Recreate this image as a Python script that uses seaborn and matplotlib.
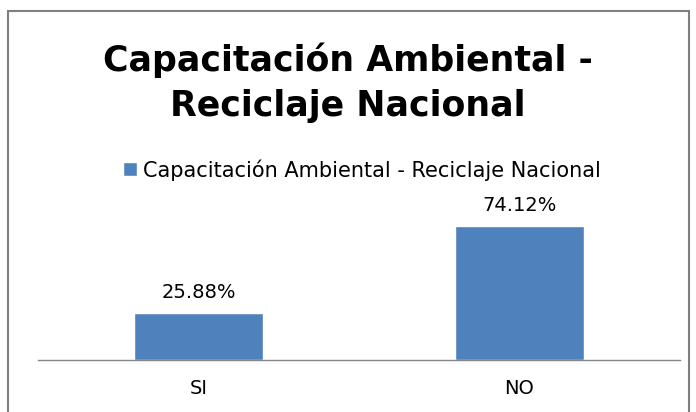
import matplotlib
matplotlib.use('Agg')
import matplotlib.pyplot as plt
from matplotlib.patches import Rectangle
import seaborn as sns

# chart data
categories = ['SI', 'NO']
values = [25.88, 74.12]
value_labels = ['25.88%', '74.12%']
series_name = 'Capacitación Ambiental - Reciclaje Nacional'
title_text = 'Capacitación Ambiental -\nReciclaje Nacional'

sns.set_style('white')
plt.rcParams['font.family'] = ['DejaVu Sans']
plt.rcParams['text.color'] = '#000000'

W, H = 696, 412
fig = plt.figure(figsize=(W / 100, H / 100), dpi=100)

# plot area: baseline at y=360 px, spans x 38..680
ax = fig.add_axes([38 / W, (H - 360) / H, 642 / W, 160 / H])
sns.barplot(x=categories, y=values, color='#4F81BD', width=0.4,
            saturation=1, ax=ax, label=series_name)
ax.set_ylim(0, 88.5)
ax.set_xlim(-0.5, 1.5)

for side in ['left', 'right', 'top']:
    ax.spines[side].set_visible(False)
ax.spines['bottom'].set_color('#868686')
ax.spines['bottom'].set_linewidth(1)
ax.set_yticks([])
ax.set_xlabel('')
ax.set_ylabel('')
ax.tick_params(axis='x', length=0, pad=14, labelsize=14, colors='#000000')

ax.bar_label(ax.containers[0], labels=value_labels, padding=8, fontsize=14,
             color='#000000')

# title
fig.text(0.5, 1 - 83 / H, title_text, ha='center', va='center',
         fontsize=25, fontweight='bold', color='#000000', linespacing=1.4)

# legend (sits slightly right of centre in the original)
leg = ax.legend(loc='center', bbox_to_anchor=(362 / W, 1 - 170 / H),
                bbox_transform=fig.transFigure, frameon=False, fontsize=15,
                handlelength=0.65, handleheight=0.65, handletextpad=0.3)
for t in leg.get_texts():
    t.set_color('#000000')

# outer chart border
fig.patches.append(Rectangle((8 / W, -0.05), (689 - 8) / W, (H - 11) / H + 0.05,
                             transform=fig.transFigure, fill=False,
                             edgecolor='#7f7f7f', linewidth=1.5))

fig.savefig('out.png', dpi=100)
